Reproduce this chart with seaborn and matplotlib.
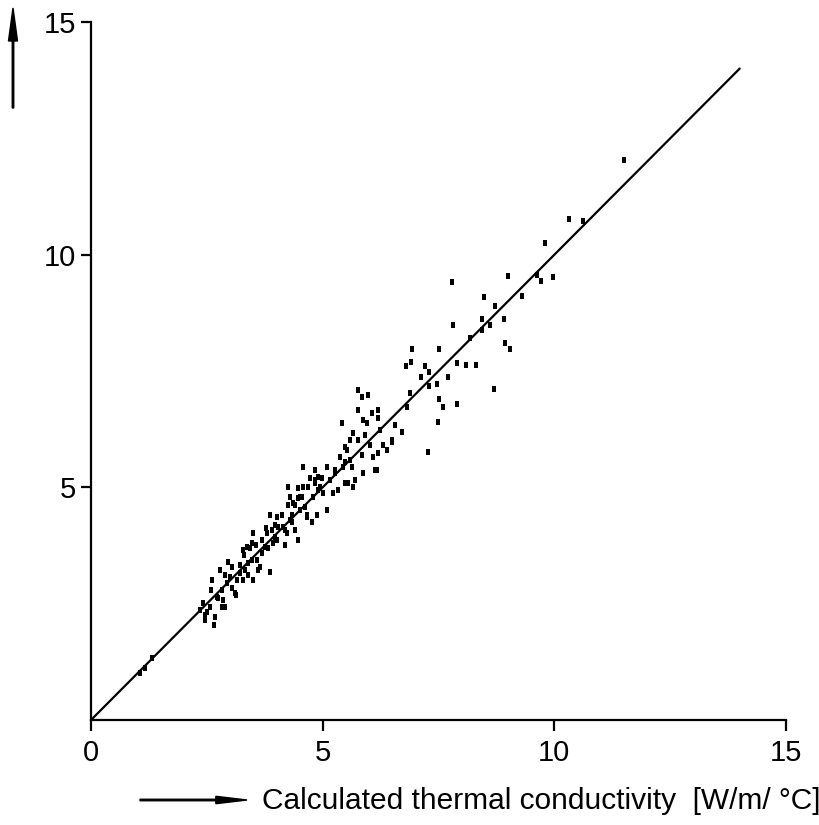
import matplotlib
matplotlib.use("Agg")
import matplotlib.pyplot as plt
import seaborn as sns
import pandas as pd
from matplotlib.patches import FancyArrow

# ---- data ----
calculated = [
    1.06, 1.17, 1.32,
    2.46, 2.68, 2.50, 2.42, 2.57, 2.61, 2.72, 2.83, 2.85, 2.89, 2.94, 3.00, 3.04,
    3.11, 3.15, 3.22, 3.28, 3.32, 3.39, 3.50, 3.28, 3.37, 3.47, 3.50, 3.58, 3.65,
    3.69, 3.76, 3.86, 3.80, 3.91, 3.93, 3.97, 3.86, 4.01, 4.04, 4.14, 4.19, 4.23,
    4.30, 4.34, 4.40, 4.47, 4.25, 4.30, 4.47, 4.51, 4.58, 4.36, 4.62, 4.66, 4.68,
    4.77, 4.83, 4.88,
    4.58, 4.55, 4.66, 4.79, 4.83, 4.83, 4.90, 4.94, 5.01, 5.09, 5.09, 5.16, 5.22,
    5.27, 5.37, 5.42, 5.44, 5.48, 5.53, 5.48, 5.55, 5.59, 5.59, 5.63, 5.66, 5.66,
    5.76, 5.76, 5.76, 5.85, 5.98, 5.87, 5.87, 5.96, 6.07, 6.09, 6.13, 6.17, 6.19,
    6.19, 6.19, 6.24, 6.39, 6.50, 6.71,
    6.50, 7.27, 7.49, 6.82, 6.89, 6.80, 6.91, 6.93, 7.12, 7.21, 7.30, 7.30, 7.47,
    7.51, 7.60, 7.71, 7.51, 7.81, 7.79, 7.90, 7.90, 8.09, 8.31, 8.18, 8.44, 8.44,
    8.61, 8.48, 8.72, 8.94, 9.04, 8.70, 8.91, 9.30, 9.00, 9.63, 9.71, 9.97,
    9.80, 10.32, 10.62, 11.50,
    2.59, 2.74, 2.89, 3.04, 3.22, 3.43, 3.56, 3.69, 3.78, 3.97, 4.12, 4.25, 4.40,
    4.51, 4.73, 4.19, 3.60, 3.39, 3.13, 2.83, 2.46, 2.65, 2.35, 2.78, 2.96, 3.30,
    3.47, 3.82, 4.01, 4.34, 4.47, 4.90, 4.99, 5.27, 5.33, 5.48, 5.70, 5.85, 5.91,
    6.02, 6.30, 6.56,
]
measured = [
    1.01, 1.12, 1.33,
    2.26, 2.22, 2.32, 2.52, 2.43, 3.01, 2.65, 2.80, 2.58, 2.43, 2.95, 3.08, 3.29,
    2.73, 3.01, 3.16, 3.01, 3.23, 3.38, 3.01, 3.66, 3.72, 3.81, 4.02, 3.44, 3.29,
    3.59, 3.72, 3.18, 4.02, 4.09, 3.81, 3.94, 4.41, 4.37, 4.15, 4.15, 3.76, 4.02,
    4.30, 4.41, 4.09, 3.87, 5.01, 4.80, 4.99, 4.80, 5.01, 4.67, 4.58, 4.37, 5.01,
    4.26, 5.10, 4.41,
    5.44, 4.80, 4.41, 4.80, 5.38, 5.16, 5.23, 5.01, 4.88, 5.44, 4.52, 5.16, 4.88,
    5.31, 5.66, 6.39, 5.44, 5.87, 5.81, 5.10, 5.10, 6.02, 5.59, 5.44, 6.17, 5.01,
    6.02, 6.67, 7.10, 6.95, 6.99, 5.31, 6.45, 6.39, 6.60, 5.66, 5.38, 5.38, 6.67,
    6.49, 5.74, 6.24, 5.81, 6.02, 6.19,
    5.98, 5.76, 6.41, 6.73, 7.03, 7.61, 7.70, 7.98, 7.38, 7.61, 7.48, 7.18, 7.23,
    6.90, 6.73, 7.38, 7.98, 8.49, 9.42, 7.68, 6.80, 7.63, 7.63, 8.22, 8.62, 8.39,
    8.49, 9.08, 8.90, 8.11, 7.98, 7.12, 8.62, 9.12, 9.55, 9.57, 9.44, 9.53,
    10.26, 10.77, 10.73, 12.04,
    2.80, 2.62, 3.12, 2.84, 3.33, 3.70, 3.76, 3.87, 4.13, 4.19, 4.41, 4.62, 4.62,
    4.52, 5.20, 4.09, 3.23, 3.12, 2.69, 2.43, 2.15, 2.04, 2.37, 3.23, 3.40, 3.55,
    3.44, 3.70, 3.87, 4.26, 4.77, 4.95, 5.20, 5.38, 4.95, 5.55, 5.16, 5.70, 6.13,
    5.91, 5.91, 6.34,
]
line_x = [0.0, 14.0]
line_y = [0.0, 14.0]
x_ticks = [0, 5, 10, 15]
y_ticks = [5, 10, 15]
x_label = "Calculated thermal conductivity  [W/m/ °C]"

df = pd.DataFrame({"calc": calculated, "meas": measured})
ldf = pd.DataFrame({"x": line_x, "y": line_y})

sns.set_style("ticks")
plt.rcParams["font.family"] = ["Liberation Sans", "DejaVu Sans"]

fig = plt.figure(figsize=(8.2, 8.25), dpi=100)
ax = fig.add_axes([0.111, 0.1273, 0.8476, 0.846])

sns.lineplot(data=ldf, x="x", y="y", ax=ax, color="black", linewidth=1.6)
rect = [(-0.33, -0.5), (0.33, -0.5), (0.33, 0.5), (-0.33, 0.5), (-0.33, -0.5)]
sns.scatterplot(data=df, x="calc", y="meas", ax=ax, color="black",
                marker=rect, s=16, linewidth=0)

ax.set_xlim(0, 15)
ax.set_ylim(0, 15)
ax.set_xticks(x_ticks)
ax.set_yticks(y_ticks)
ax.set_xticklabels([str(t) for t in x_ticks])
ax.set_yticklabels([str(t) for t in y_ticks])
ax.set_xlabel("")
ax.set_ylabel("")
for s in ["top", "right"]:
    ax.spines[s].set_visible(False)
for s in ["left", "bottom"]:
    ax.spines[s].set_linewidth(1.6)
    ax.spines[s].set_color("black")
ax.tick_params(axis="x", direction="out", length=8, width=1.6, pad=6,
               labelsize=21, colors="black")
ax.tick_params(axis="y", direction="out", length=7, width=1.6, pad=4,
               labelsize=21, colors="black")

# x label with arrow
fig.text(262 / 820, 1 - 801 / 825, x_label, fontsize=21.5, ha="left", va="center",
         color="black")
fig.add_artist(FancyArrow(140 / 820, 1 - 800 / 825, (247 - 140) / 820, 0,
                          width=0.0018, head_width=0.009, head_length=0.038,
                          length_includes_head=True, color="black",
                          transform=fig.transFigure))
# y arrow (upwards)
fig.add_artist(FancyArrow(13 / 820, 1 - 108 / 825, 0, (108 - 8) / 825,
                          width=0.0018, head_width=0.011, head_length=0.04,
                          length_includes_head=True, color="black",
                          transform=fig.transFigure))

fig.savefig("out.png", dpi=100, facecolor="white")
